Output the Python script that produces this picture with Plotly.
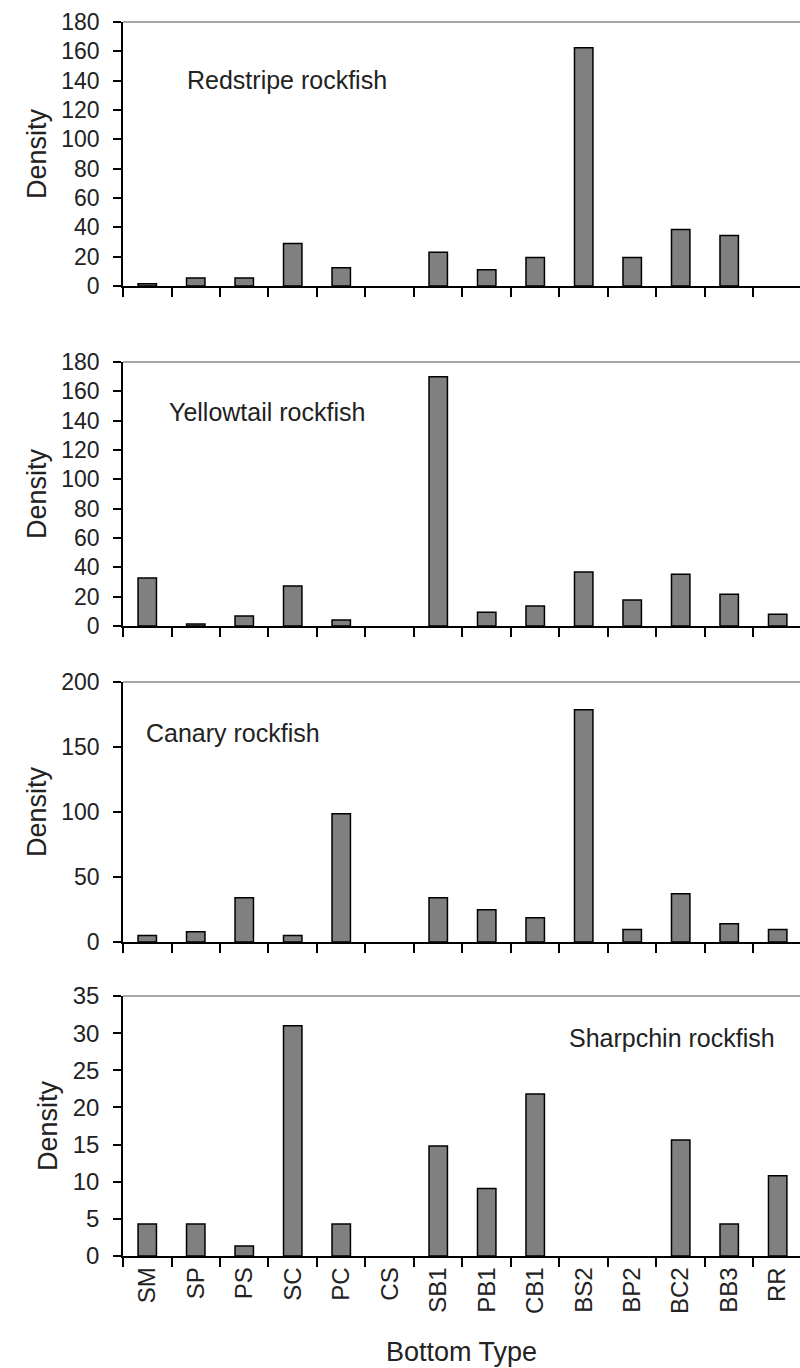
import plotly.graph_objects as go

categories = ["SM", "SP", "PS", "SC", "PC", "CS", "SB1", "PB1", "CB1", "BS2", "BP2", "BC2", "BB3", "RR"]

redstripe = [1.5, 5.5, 5.5, 29, 12.5, 0, 23, 11, 19.5, 162.5, 19.5, 38.5, 34.5, 0]
yellowtail = [32.7, 1.4, 6.8, 27.3, 4.1, 0, 170, 9.3, 13.6, 36.8, 17.7, 35.2, 21.6, 8]
canary = [5, 7.9, 34, 5, 98.7, 0, 34, 24.9, 18.7, 178.7, 9.7, 37.2, 14.1, 9.7]
sharpchin = [4.3, 4.3, 1.35, 31, 4.3, 0, 14.8, 9.1, 21.8, 0, 0, 15.6, 4.3, 10.8]

species = ["Redstripe rockfish", "Yellowtail rockfish", "Canary rockfish", "Sharpchin rockfish"]
series = [redstripe, yellowtail, canary, sharpchin]
y_max = [180, 180, 200, 35]
y_dtick = [20, 20, 50, 5]

W, H = 800, 1368
mt, mb, ml, mr = 22, 112, 123, 0
plot_h = H - mt - mb
panel_px = [(22, 286), (362, 626), (682, 942), (996, 1256)]
label_pos = [(0.091, 0.78), (0.065, 0.812), (0.031, 0.804), (0.656, 0.838)]

FONT = "Liberation Sans, Arial, sans-serif"
TXT = "#222222"

fig = go.Figure()
for i, (vals, name) in enumerate(zip(series, species)):
    ax = "" if i == 0 else str(i + 1)
    fig.add_trace(go.Bar(
        x=categories, y=vals, width=0.38,
        marker=dict(color="#808080",
                    line=dict(color="#000000", width=[1.5 if v > 0 else 0 for v in vals])),
        xaxis="x" + ax, yaxis="y" + ax, showlegend=False, hoverinfo="x+y",
    ))
    top, bot = panel_px[i]
    dom = [(H - mb - bot) / plot_h, (H - mb - top) / plot_h]
    last = i == 3
    fig.layout["xaxis" + ax] = dict(
        type="category", range=[-0.5, 13.46], domain=[0, 1],
        anchor="y" + ax, tickson="boundaries", ticks="outside", ticklen=9,
        tickwidth=1.5, tickcolor="#000", showline=True, linecolor="#000", linewidth=1.5,
        showgrid=False, zeroline=False, showticklabels=last, tickangle=-90,
        tickfont=dict(family=FONT, size=24, color=TXT),
        title=dict(text="Bottom Type" if last else "", font=dict(family=FONT, size=27, color=TXT), standoff=29),
    )
    fig.layout["yaxis" + ax] = dict(
        range=[0, y_max[i]], dtick=y_dtick[i], domain=dom, anchor="x" + ax,
        ticks="outside", ticklen=8, tickwidth=1.5, tickcolor="#000",
        showline=True, linecolor="#000", linewidth=1.5, showgrid=False, zeroline=False,
        tickfont=dict(family=FONT, size=23 if not last else 24, color=TXT), ticklabelstandoff=9,
        title=dict(text="Density", font=dict(family=FONT, size=27, color=TXT), standoff=7),
    )
    fig.add_shape(type="line", xref="x" + ax + " domain", yref="y" + ax + " domain",
                  x0=0, x1=1, y0=1, y1=1, line=dict(color="#8a8a8a", width=1.5))
    fig.add_annotation(text=name, xref="x" + ax + " domain", yref="y" + ax + " domain",
                       x=label_pos[i][0], y=label_pos[i][1], xanchor="left", yanchor="middle",
                       showarrow=False, font=dict(family=FONT, size=25, color=TXT))

fig.update_layout(
    width=W, height=H, margin=dict(l=ml, r=mr, t=mt, b=mb),
    paper_bgcolor="white", plot_bgcolor="white", bargap=0.62,
)
fig.write_html("out.html")
